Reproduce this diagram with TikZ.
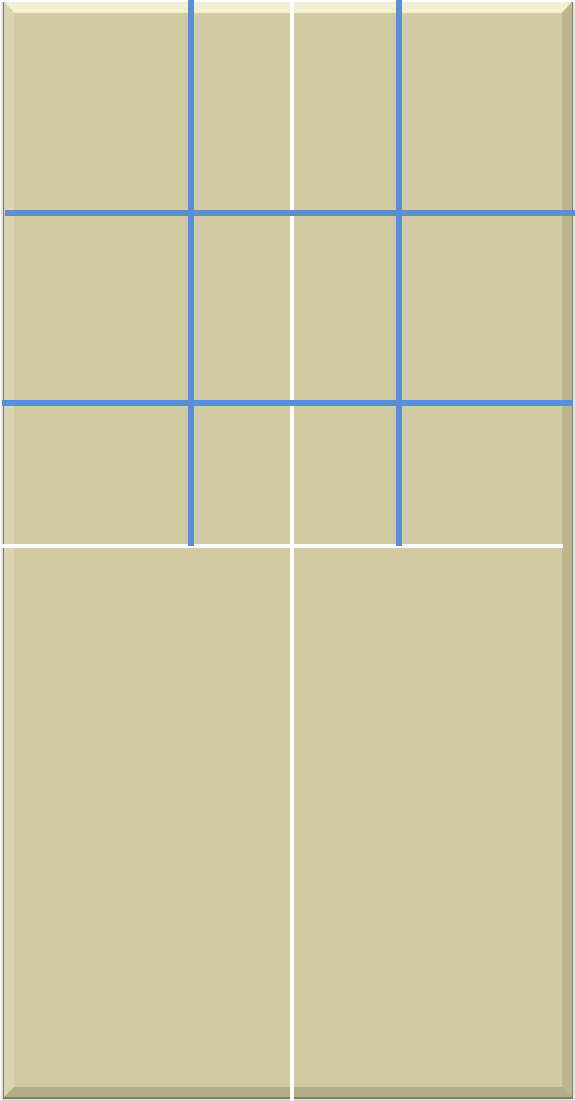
\documentclass[tikz,border=0pt]{standalone}
\usepackage{tikz}
\definecolor{panel}{HTML}{D2CAA2}
\definecolor{bluegrid}{HTML}{5A8FD3}
\definecolor{bevlight}{HTML}{F4EFD2}
\definecolor{bevdark}{HTML}{B3AC88}
\definecolor{bevdarker}{HTML}{7E785C}
\tikzset{
  blueline/.style={draw=bluegrid,line width=6pt},
  whiteline/.style={draw=white,line width=4pt}
}
\begin{document}
\begin{tikzpicture}[x=1pt,y=-1pt]
\useasboundingbox (0,0) rectangle (575,1101);
\fill[white] (0,0) rectangle (575,1101);
% outer soft shadow
\fill[black!18] (2,3) rectangle (575,1101);
\fill[black!10] (1,2) rectangle (575,1100);
% panel with bevel
\fill[bevdarker] (3,2) rectangle (573,1099);
\fill[bevlight] (4,2) -- (572,2) -- (562,13) -- (14,13) -- cycle;
\fill[bevdark] (4,1097) -- (572,1097) -- (562,1087) -- (14,1087) -- cycle;
\fill[bevdark!70!panel] (572,2) -- (572,1097) -- (562,1087) -- (562,13) -- cycle;
\fill[panel!80!white] (4,2) -- (4,1097) -- (14,1087) -- (14,13) -- cycle;
\fill[panel] (14,13) rectangle (562,1087);
% grid lines
\coordinate (wT) at (292,0);
\coordinate (wB) at (292,1101);
\coordinate (hL) at (0,546);
\coordinate (hR) at (563,546);
\draw[whiteline] (wT) -- (wB);
\draw[whiteline] (hL) -- (hR);
\coordinate (v1T) at (191,0);
\coordinate (v1B) at (191,546);
\coordinate (v2T) at (399,0);
\coordinate (v2B) at (399,546);
\coordinate (h1L) at (5,213);
\coordinate (h1R) at (575,213);
\coordinate (h2L) at (2,403);
\coordinate (h2R) at (573,403);
\draw[blueline] (v1T) -- (v1B);
\draw[blueline] (v2T) -- (v2B);
\draw[blueline] (h1L) -- (h1R);
\draw[blueline] (h2L) -- (h2R);
\end{tikzpicture}
\end{document}
